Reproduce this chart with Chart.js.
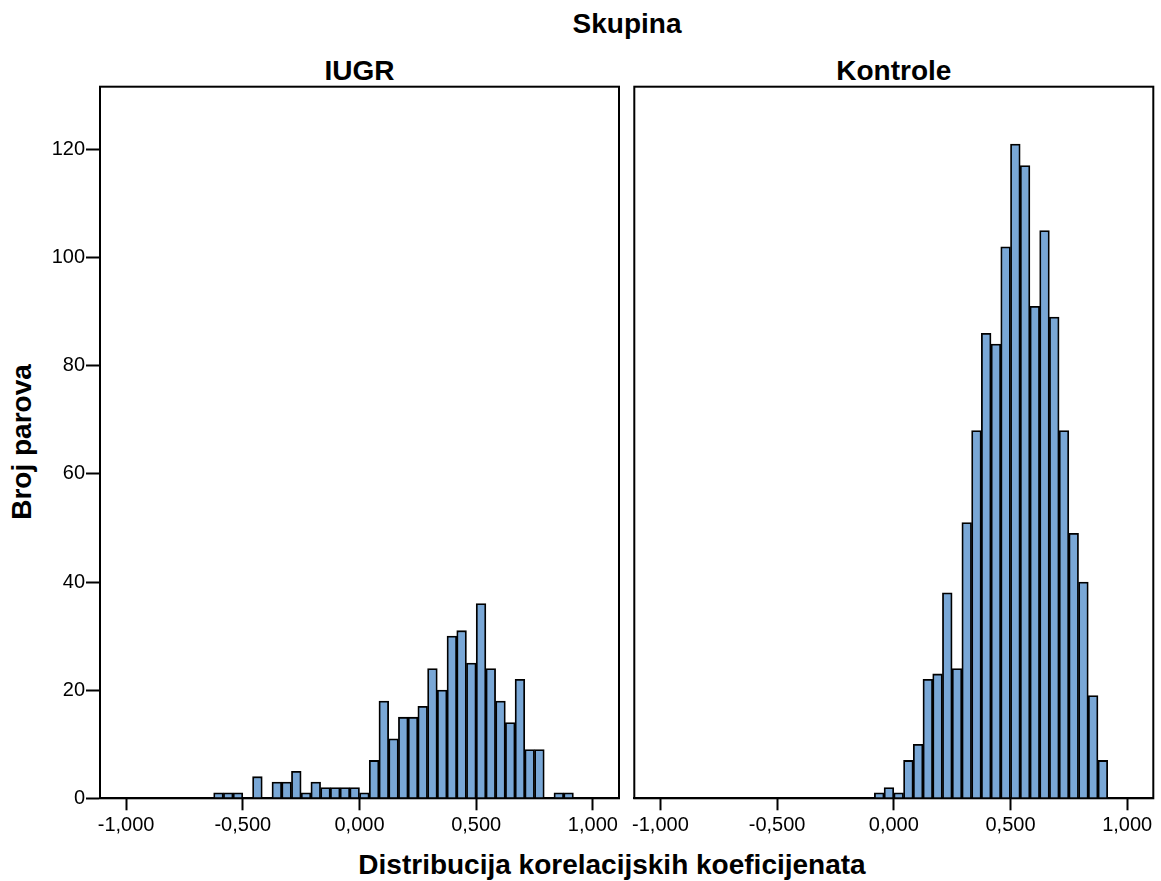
<!DOCTYPE html>
<html>
<head>
<meta charset="utf-8">
<title>Skupina</title>
<script src="https://cdn.jsdelivr.net/npm/chart.js@4/dist/chart.umd.min.js"></script>
<style>
  html, body { margin: 0; padding: 0; background: #fff; }
  body { width: 1161px; height: 881px; position: relative; overflow: hidden;
         font-family: "Liberation Sans", Arial, sans-serif; color: #000; }
  .lbl { position: absolute; font-weight: bold; font-size: 28px; line-height: 1; white-space: nowrap; }
  .box { position: absolute; }
</style>
</head>
<body>
<div class="lbl" id="mainTitle" style="left:627px; top:9.6px; transform:translateX(-50%);">Skupina</div>
<div class="lbl" style="left:359.5px; top:57.3px; transform:translateX(-50%);">IUGR</div>
<div class="lbl" style="left:893.8px; top:57.3px; transform:translateX(-50%);">Kontrole</div>
<div class="lbl" id="yTitle" style="left:22px; top:441.5px; transform:translate(-50%,-50%) rotate(-90deg);">Broj parova</div>
<div class="lbl" id="xTitle" style="left:612px; top:851.3px; transform:translateX(-50%);">Distribucija korelacijskih koeficijenata</div>

<div class="box" style="left:0; top:80px; width:627px; height:770px;"><canvas id="iugr"></canvas></div>
<div class="box" style="left:627px; top:80px; width:534px; height:770px;"><canvas id="kontrole"></canvas></div>

<script>
// histogram bins are 1/24 wide, aligned on 0
const binWidth = 1 / 24;

// IUGR counts, first bin starts at -15/24
const iugrFirstBin = -15;
const iugrCounts = [1, 1, 1, 0, 4, 0, 3, 3, 5, 1, 3, 2, 2, 2, 2,
                    1, 7, 18, 11, 15, 15, 17, 24, 20, 30, 31, 25, 36, 24, 18, 14, 22, 9, 9, 0, 1, 1];

// Kontrole counts, first bin starts at -2/24
const kontroleFirstBin = -2;
const kontroleCounts = [1, 2, 1, 7, 10, 22, 23, 38, 24, 51, 68, 86, 84, 102, 121, 117,
                        91, 105, 89, 68, 49, 40, 19, 7];

const xTicks = [-1, -0.5, 0, 0.5, 1];
const yTicks = [0, 20, 40, 60, 80, 100, 120];
const xRange = [-1.112, 1.112];
const yMax = 131.6;

function toPoints(first, counts) {
    return counts.map((c, i) => ({ x: (first + i + 0.5) * binWidth, y: c }));
}

// draws the black frame round the plot area, on top of the bars
const framePlugin = {
    id: 'frame',
    afterDraw(chart) {
        const a = chart.chartArea;
        const ctx = chart.ctx;
        ctx.save();
        ctx.strokeStyle = '#000';
        ctx.lineWidth = 2;
        ctx.strokeRect(a.left, a.top, a.right - a.left, a.bottom - a.top);
        ctx.restore();
    }
};

function makeChart(id, points, showY, padLeft, padRight) {
    const tickFont = { family: '"Liberation Sans", Arial, sans-serif', size: 20 };
    return new Chart(document.getElementById(id), {
        type: 'bar',
        data: {
            datasets: [{
                data: points,
                backgroundColor: '#79a7d6',
                borderColor: '#000',
                borderWidth: 1.8,
                borderSkipped: 'start',
                barPercentage: 1,
                categoryPercentage: 1
            }]
        },
        options: {
            responsive: true,
            maintainAspectRatio: false,
            animation: false,
            layout: { padding: { top: 6.7, bottom: 0, left: padLeft, right: padRight } },
            plugins: { legend: { display: false }, tooltip: { enabled: false } },
            scales: {
                x: {
                    type: 'linear',
                    offset: false,
                    min: xRange[0],
                    max: xRange[1],
                    afterBuildTicks: s => { s.ticks = xTicks.map(v => ({ value: v })); },
                    afterFit: s => { s.height = 51.7; s.paddingLeft = 0; s.paddingRight = 0; },
                    grid: { offset: false, drawOnChartArea: false, drawTicks: true, tickLength: 12, tickWidth: 2, tickColor: '#000' },
                    border: { display: true, color: '#000', width: 2 },
                    ticks: {
                        color: '#000',
                        font: tickFont,
                        padding: 3,
                        maxRotation: 0,
                        autoSkip: false,
                        callback: v => v.toFixed(3).replace('.', ',')
                    }
                },
                y: {
                    display: showY,
                    min: 0,
                    max: yMax,
                    afterBuildTicks: s => { s.ticks = yTicks.map(v => ({ value: v })); },
                    afterFit: s => { if (showY) s.width = 100; s.paddingTop = 0; s.paddingBottom = 0; },
                    grid: { offset: false, drawOnChartArea: false, drawTicks: true, tickLength: 14, tickWidth: 2, tickColor: '#000' },
                    border: { display: true, color: '#000', width: 2 },
                    ticks: { color: '#000', font: tickFont, padding: 1 }
                }
            }
        },
        plugins: [framePlugin]
    });
}

makeChart('iugr', toPoints(iugrFirstBin, iugrCounts), true, 0, 8);
makeChart('kontrole', toPoints(kontroleFirstBin, kontroleCounts), false, 7.3, 7.7);
</script>
</body>
</html>
